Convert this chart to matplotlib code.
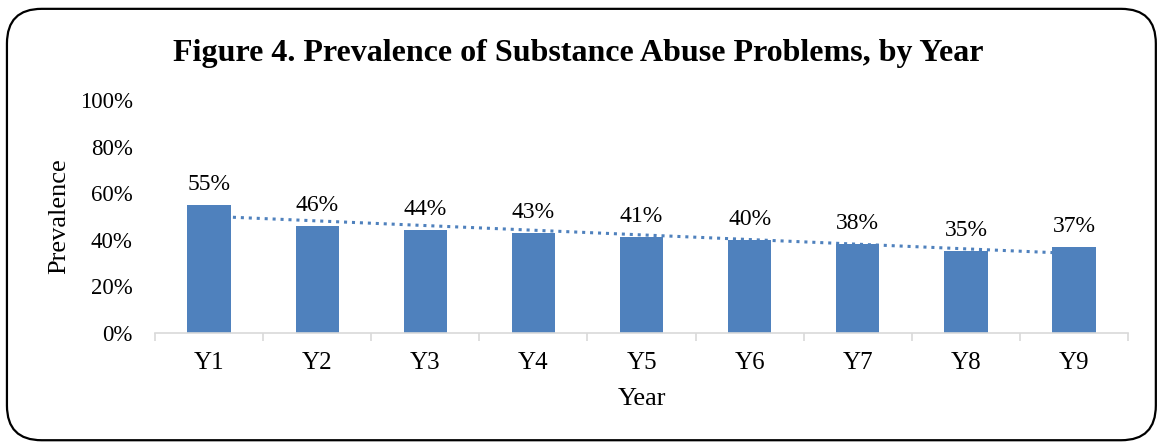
import numpy as np
import matplotlib
matplotlib.use('Agg')
import matplotlib.pyplot as plt
from matplotlib.patches import FancyBboxPatch
from matplotlib.ticker import FuncFormatter

years = ['Y1', 'Y2', 'Y3', 'Y4', 'Y5', 'Y6', 'Y7', 'Y8', 'Y9']
prevalence = [55, 46, 44, 43, 41, 40, 38, 35, 37]

plt.rcParams['font.family'] = ['Liberation Serif', 'DejaVu Serif']

fig = plt.figure(figsize=(11.57, 4.42), dpi=100)
ax = fig.add_axes([0.134, 0.2466, 0.841, 0.5272])

x = np.arange(len(years))
vals = np.array(prevalence) / 100.0

# linear trendline (behind bars)
k, b = np.polyfit(x, vals, 1)
ax.plot(x, k * x + b, linestyle=(0, (1, 1.6)), color='#4F81BD', lw=2.2, zorder=1)

ax.bar(x, vals, width=0.4, color='#4F81BD', zorder=2)
for xi, v in zip(x, prevalence):
    ax.text(xi, v / 100 + 0.043, f'{v}%', ha='center', va='bottom', fontsize=17)

ax.set_xlim(-0.5, len(years) - 0.5)
ax.set_ylim(0, 1)
ax.set_yticks(np.arange(0, 1.01, 0.2))
ax.yaxis.set_major_formatter(FuncFormatter(lambda v, p: f'{v * 100:.0f}%'))
ax.tick_params(axis='y', length=0, labelsize=16.5, pad=16)

ax.set_xticks(x)
ax.set_xticklabels(years)
ax.set_xticks(np.arange(-0.5, len(years)), minor=True)
ax.tick_params(axis='x', which='major', length=0, labelsize=18, pad=14)
ax.tick_params(axis='x', which='minor', length=6, color='#D9D9D9', width=1.2)

for s in ['top', 'right', 'left']:
    ax.spines[s].set_visible(False)
ax.spines['bottom'].set_color('#D9D9D9')
ax.spines['bottom'].set_linewidth(1.2)

ax.set_xlabel('Year', fontsize=19, labelpad=10)
ax.set_ylabel('Prevalence', fontsize=19, labelpad=7)

fig.text(0.5, 0.878, 'Figure 4. Prevalence of Substance Abuse Problems, by Year',
         ha='center', va='center', fontsize=23, fontweight='bold')

border = FancyBboxPatch((0.006, 0.004), 0.993, 0.976, boxstyle='round,pad=0,rounding_size=0.03',
                        transform=fig.transFigure, fill=False, edgecolor='black', lw=1.6,
                        mutation_aspect=1157 / 442)
fig.patches.append(border)

fig.savefig('out.png', dpi=100)
